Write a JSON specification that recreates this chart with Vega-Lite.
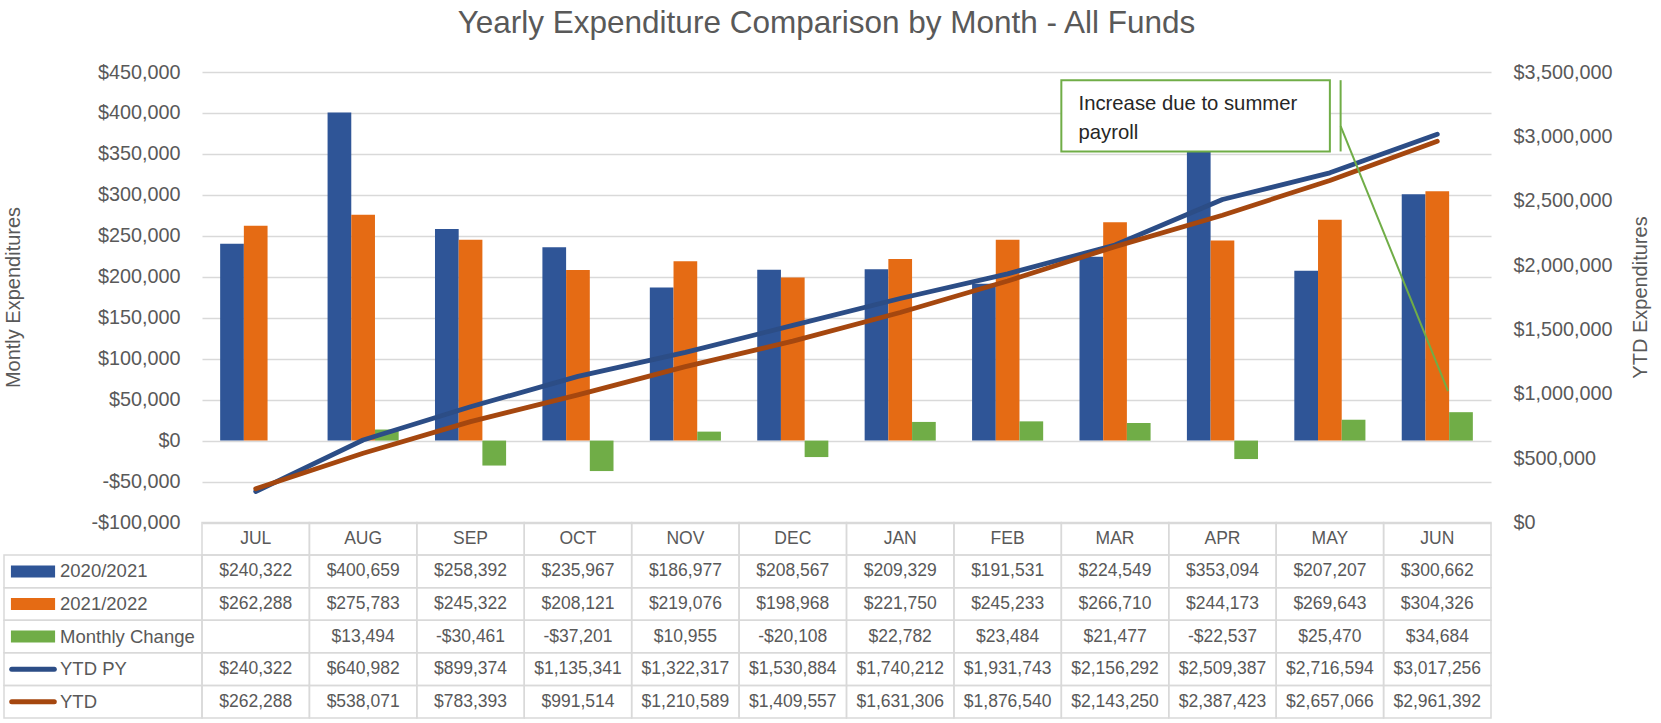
{
  "$schema": "https://vega.github.io/schema/vega-lite/v6.json",
  "width": 1289,
  "height": 646,
  "autosize": {"type": "none"},
  "padding": {"left": 202, "top": 72, "right": 170, "bottom": 5},
  "title": {"text": "Yearly Expenditure Comparison by Month - All Funds", "anchor": "middle", "frame": "bounds", "fontSize": 31.5, "fontWeight": "normal", "color": "#595959", "font": "Liberation Sans", "dy": -19},
  "config": {
    "font": "Liberation Sans",
    "view": {"stroke": null},
    "locale": {"number": {"decimal": ".", "thousands": ",", "grouping": [3], "currency": ["$", ""], "minus": "-"}},
    "axis": {"labelColor": "#595959", "titleColor": "#595959", "labelFont": "Liberation Sans", "titleFont": "Liberation Sans", "domain": false, "ticks": false, "tickSize": 0, "labelFontSize": 19.8, "titleFontSize": 20, "titleFontWeight": "normal"},
    "text": {"color": "#595959", "font": "Liberation Sans"}
  },
  "datasets": {
    "months": [
      {"month": "JUL", "2020/2021": 240322, "2021/2022": 262288, "Monthly Change": null, "YTD PY": 240322, "YTD": 262288},
      {"month": "AUG", "2020/2021": 400659, "2021/2022": 275783, "Monthly Change": 13494, "YTD PY": 640982, "YTD": 538071},
      {"month": "SEP", "2020/2021": 258392, "2021/2022": 245322, "Monthly Change": -30461, "YTD PY": 899374, "YTD": 783393},
      {"month": "OCT", "2020/2021": 235967, "2021/2022": 208121, "Monthly Change": -37201, "YTD PY": 1135341, "YTD": 991514},
      {"month": "NOV", "2020/2021": 186977, "2021/2022": 219076, "Monthly Change": 10955, "YTD PY": 1322317, "YTD": 1210589},
      {"month": "DEC", "2020/2021": 208567, "2021/2022": 198968, "Monthly Change": -20108, "YTD PY": 1530884, "YTD": 1409557},
      {"month": "JAN", "2020/2021": 209329, "2021/2022": 221750, "Monthly Change": 22782, "YTD PY": 1740212, "YTD": 1631306},
      {"month": "FEB", "2020/2021": 191531, "2021/2022": 245233, "Monthly Change": 23484, "YTD PY": 1931743, "YTD": 1876540},
      {"month": "MAR", "2020/2021": 224549, "2021/2022": 266710, "Monthly Change": 21477, "YTD PY": 2156292, "YTD": 2143250},
      {"month": "APR", "2020/2021": 353094, "2021/2022": 244173, "Monthly Change": -22537, "YTD PY": 2509387, "YTD": 2387423},
      {"month": "MAY", "2020/2021": 207207, "2021/2022": 269643, "Monthly Change": 25470, "YTD PY": 2716594, "YTD": 2657066},
      {"month": "JUN", "2020/2021": 300662, "2021/2022": 304326, "Monthly Change": 34684, "YTD PY": 3017256, "YTD": 2961392}
    ],
    "series": [
      {"series": "2020/2021"},
      {"series": "2021/2022"},
      {"series": "Monthly Change"},
      {"series": "YTD PY"},
      {"series": "YTD"}
    ]
  },
  "layer": [
    {
      "data": {"name": "months"},
      "transform": [{"fold": ["2020/2021", "2021/2022", "Monthly Change", "YTD PY", "YTD"], "as": ["key", "value"]}],
      "mark": {"type": "rect", "filled": false, "stroke": "#d9d9d9", "strokeWidth": 1.5},
      "encoding": {
        "x": {"field": "month", "type": "nominal", "sort": ["JUL","AUG","SEP","OCT","NOV","DEC","JAN","FEB","MAR","APR","MAY","JUN"], "scale": {"paddingInner": 0, "paddingOuter": 0}, "axis": null},
        "y": {"field": "key", "type": "nominal", "scale": {"domain": ["_hdr","2020/2021","2021/2022","Monthly Change","YTD PY","YTD"], "range": [450.5, 646], "paddingInner": 0, "paddingOuter": 0}, "axis": null}
      }
    },
    {
      "data": {"name": "months"},
      "layer": [
        {"mark": {"type": "rect", "filled": false, "stroke": "#d9d9d9", "strokeWidth": 1.5}},
        {"mark": {"type": "text", "fontSize": 17.5, "color": "#595959", "baseline": "middle"}, "encoding": {"text": {"field": "month"}}}
      ],
      "encoding": {
        "x": {"field": "month", "type": "nominal", "sort": ["JUL","AUG","SEP","OCT","NOV","DEC","JAN","FEB","MAR","APR","MAY","JUN"], "scale": {"paddingInner": 0, "paddingOuter": 0}, "axis": null},
        "y": {"datum": "_hdr", "type": "nominal", "scale": {"domain": ["_hdr","2020/2021","2021/2022","Monthly Change","YTD PY","YTD"], "range": [450.5, 646], "paddingInner": 0, "paddingOuter": 0}, "axis": null}
      }
    },
    {
      "data": {"name": "months"},
      "transform": [
        {"fold": ["2020/2021", "2021/2022", "Monthly Change", "YTD PY", "YTD"], "as": ["key", "value"]},
        {"filter": "datum.value != null"}
      ],
      "mark": {"type": "text", "fontSize": 17.5, "color": "#595959", "baseline": "middle"},
      "encoding": {
        "x": {"field": "month", "type": "nominal", "sort": ["JUL","AUG","SEP","OCT","NOV","DEC","JAN","FEB","MAR","APR","MAY","JUN"], "scale": {"paddingInner": 0, "paddingOuter": 0}, "axis": null},
        "y": {"field": "key", "type": "nominal", "scale": {"domain": ["_hdr","2020/2021","2021/2022","Monthly Change","YTD PY","YTD"], "range": [450.5, 646], "paddingInner": 0, "paddingOuter": 0}, "axis": null},
        "text": {"field": "value", "type": "quantitative", "format": "$,.0f"}
      }
    },
    {
      "data": {"name": "months"},
      "transform": [{"fold": ["2020/2021", "2021/2022", "Monthly Change"], "as": ["key", "value"]}],
      "mark": {"type": "bar"},
      "encoding": {
        "x": {"field": "month", "type": "nominal", "sort": ["JUL","AUG","SEP","OCT","NOV","DEC","JAN","FEB","MAR","APR","MAY","JUN"], "scale": {"paddingInner": 0, "paddingOuter": 0}, "axis": null},
        "xOffset": {"field": "key", "type": "nominal", "sort": ["2020/2021", "2021/2022", "Monthly Change"], "scale": {"paddingInner": 0, "paddingOuter": 0.766}},
        "y": {"field": "value", "type": "quantitative", "scale": {"domain": [-100000, 450000], "range": [450.5, 0], "nice": false, "zero": false},
          "axis": {"orient": "left", "values": [-100000, -50000, 0, 50000, 100000, 150000, 200000, 250000, 300000, 350000, 400000, 450000], "format": "$,.0f", "grid": true, "gridColor": "#d9d9d9", "gridWidth": 1.5, "labelPadding": 22, "title": "Montly Expenditures", "titleX": -189, "titleY": 225, "titleAngle": 270, "titleAlign": "center", "titleBaseline": "middle"}},
        "color": {"field": "key", "type": "nominal", "scale": {"domain": ["2020/2021", "2021/2022", "Monthly Change"], "range": ["#2F5597", "#E56B14", "#70AD47"]}, "legend": null}
      }
    },
    {
      "data": {"name": "months"},
      "transform": [{"fold": ["YTD PY", "YTD"], "as": ["key", "value"]}],
      "mark": {"type": "line", "strokeWidth": 4.8, "strokeCap": "round", "strokeJoin": "round"},
      "encoding": {
        "x": {"field": "month", "type": "nominal", "sort": ["JUL","AUG","SEP","OCT","NOV","DEC","JAN","FEB","MAR","APR","MAY","JUN"], "scale": {"paddingInner": 0, "paddingOuter": 0}, "axis": null},
        "y": {"field": "value", "type": "quantitative", "scale": {"domain": [0, 3500000], "range": [450.5, 0], "nice": false, "zero": false},
          "axis": {"orient": "right", "values": [0, 500000, 1000000, 1500000, 2000000, 2500000, 3000000, 3500000], "format": "$,.0f", "grid": false, "labelPadding": 22, "title": "YTD Expenditures", "titleX": 149, "titleY": 225, "titleAngle": 270, "titleAlign": "center", "titleBaseline": "middle"}},
        "color": {"field": "key", "type": "nominal", "scale": {"domain": ["YTD PY", "YTD"], "range": ["#2C4D86", "#A5470F"]}, "legend": null}
      }
    },
    {
      "data": {"name": "series"},
      "layer": [
        {"mark": {"type": "rect", "filled": false, "stroke": "#d9d9d9", "strokeWidth": 1.5},
         "encoding": {"x": {"datum": 0, "type": "quantitative"}, "x2": {"datum": 1}}},
        {"transform": [{"filter": {"field": "series", "oneOf": ["2020/2021", "2021/2022", "Monthly Change"]}}],
         "mark": {"type": "rule", "strokeWidth": 12, "strokeCap": "butt"},
         "encoding": {"x": {"datum": 0.035, "type": "quantitative"}, "x2": {"datum": 0.258},
           "color": {"field": "series", "type": "nominal", "scale": {"domain": ["2020/2021","2021/2022","Monthly Change","YTD PY","YTD"], "range": ["#2F5597", "#E56B14", "#70AD47", "#2C4D86", "#A5470F"]}, "legend": null}}},
        {"transform": [{"filter": {"field": "series", "oneOf": ["YTD PY", "YTD"]}}],
         "mark": {"type": "rule", "strokeWidth": 5, "strokeCap": "round"},
         "encoding": {"x": {"datum": 0.039, "type": "quantitative"}, "x2": {"datum": 0.254},
           "color": {"field": "series", "type": "nominal", "scale": {"domain": ["2020/2021","2021/2022","Monthly Change","YTD PY","YTD"], "range": ["#2F5597", "#E56B14", "#70AD47", "#2C4D86", "#A5470F"]}, "legend": null}}},
        {"mark": {"type": "text", "align": "left", "baseline": "middle", "fontSize": 18.5, "color": "#595959"},
         "encoding": {"x": {"datum": 0.283, "type": "quantitative"}, "text": {"field": "series"}}}
      ],
      "encoding": {
        "x": {"datum": 0, "type": "quantitative", "scale": {"domain": [0, 1], "range": [-198, 0], "nice": false, "zero": false}, "axis": null},
        "y": {"field": "series", "type": "nominal", "scale": {"domain": ["_hdr","2020/2021","2021/2022","Monthly Change","YTD PY","YTD"], "range": [450.5, 646], "paddingInner": 0, "paddingOuter": 0}, "axis": null}
      }
    },
    {
      "data": {"values": [{}]},
      "layer": [
        {"mark": {"type": "rect", "fill": "white", "stroke": "#70AD47", "strokeWidth": 2},
         "encoding": {"x": {"datum": 8.0, "type": "quantitative"}, "x2": {"datum": 10.5}, "y": {"datum": 440000, "type": "quantitative"}, "y2": {"datum": 353000}}},
        {"mark": {"type": "rule", "stroke": "#70AD47", "strokeWidth": 2},
         "encoding": {"x": {"datum": 10.6, "type": "quantitative"}, "y": {"datum": 440000, "type": "quantitative"}, "y2": {"datum": 353000}}},
        {"mark": {"type": "rule", "stroke": "#70AD47", "strokeWidth": 2},
         "encoding": {"x": {"datum": 10.6, "type": "quantitative"}, "x2": {"datum": 11.6}, "y": {"datum": 384000, "type": "quantitative"}, "y2": {"datum": 60300}}},
        {"mark": {"type": "text", "align": "left", "baseline": "alphabetic", "fontSize": 20.3, "lineHeight": 29, "color": "#262626", "text": ["Increase due to summer", "payroll"]},
         "encoding": {"x": {"datum": 8.16, "type": "quantitative"}, "y": {"datum": 404000, "type": "quantitative"}}}
      ],
      "encoding": {
        "x": {"datum": 0, "type": "quantitative", "scale": {"domain": [0, 12], "nice": false, "zero": false}, "axis": null},
        "y": {"datum": 0, "type": "quantitative", "scale": {"domain": [-100000, 450000], "range": [450.5, 0], "nice": false, "zero": false}, "axis": null}
      }
    }
  ],
  "resolve": {"scale": {"x": "independent", "y": "independent", "color": "independent", "xOffset": "independent"}}
}
